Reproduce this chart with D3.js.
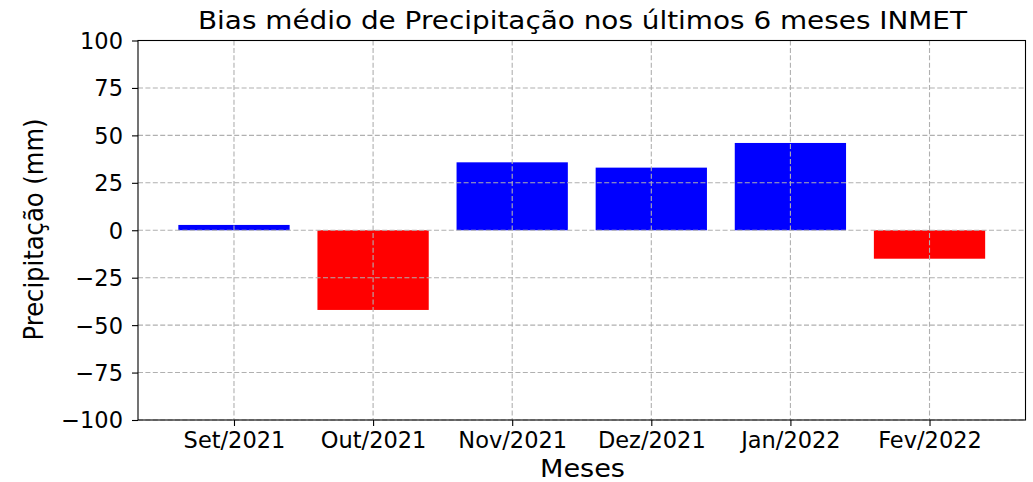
<!DOCTYPE html>
<html><head><meta charset="utf-8">
<script src="https://cdn.jsdelivr.net/npm/d3@7"></script>
<style>body{margin:0;background:#fff}svg{display:block}text{font-family:"DejaVu Sans",sans-serif;fill:#000}</style>
</head><body><svg id="c" width="1033" height="482"></svg>
<script>
const categories = ["Set/2021","Out/2021","Nov/2021","Dez/2021","Jan/2022","Fev/2022"];
const values = [2.8, -42.0, 35.8, 33.0, 46.0, -15.0];
const yTicks = [-100,-75,-50,-25,0,25,50,75,100];
const title = "Bias médio de Precipitação nos últimos 6 meses INMET";
const xLabel = "Meses";
const yLabel = "Precipitação (mm)";

const svg = d3.select("#c");
const L = 138, R = 1025.5, T = 40.5, B = 420;
const x = d3.scaleLinear().domain([-0.69, 5.69]).range([L, R]);
const y = d3.scaleLinear().domain([-100, 100]).range([B, T]);
const bw = 0.8;

// bars
svg.append("g").selectAll("rect").data(values).join("rect")
  .attr("x", (d,i) => x(i - bw/2))
  .attr("width", (d,i) => x(i + bw/2) - x(i - bw/2))
  .attr("y", d => y(Math.max(0,d)))
  .attr("height", d => Math.abs(y(d) - y(0)))
  .attr("fill", d => d >= 0 ? "#0000ff" : "#ff0000");

// grid (drawn above bars)
const grid = svg.append("g").attr("stroke", "#b0b0b0").attr("stroke-width", 1.1).attr("stroke-dasharray", "5,2.4");
grid.selectAll("line.h").data(yTicks).join("line").attr("class","h")
  .attr("x1", L).attr("x2", R).attr("y1", d => y(d)).attr("y2", d => y(d));
grid.selectAll("line.v").data(categories).join("line").attr("class","v")
  .attr("x1", (d,i) => x(i)).attr("x2", (d,i) => x(i)).attr("y1", T).attr("y2", B);

// axes
const yAxis = d3.axisLeft(y).tickValues(yTicks).tickSize(6).tickPadding(9)
  .tickFormat(d => d < 0 ? "\u2212" + Math.abs(d) : String(d));
const gy = svg.append("g").attr("transform", `translate(${L},0)`).call(yAxis);
const xAxis = d3.axisBottom(x).tickValues(d3.range(categories.length)).tickSize(6).tickPadding(7)
  .tickFormat(i => categories[i]);
const gx = svg.append("g").attr("transform", `translate(0,${B})`).call(xAxis);
[gx, gy].forEach(g => {
  g.select(".domain").remove();
  g.selectAll("line").attr("stroke", "#000").attr("stroke-width", 1.1);
  g.selectAll("text").attr("font-size", 22.5).attr("font-family", "DejaVu Sans").attr("fill", "#000");
});
gy.selectAll("text").attr("dy", "0.35em");
gx.selectAll("text").attr("dy", "0.68em");

// frame
svg.append("rect").attr("x", L).attr("y", T).attr("width", R - L).attr("height", B - T)
  .attr("fill", "none").attr("stroke", "#000").attr("stroke-width", 1.1);

// labels
svg.append("text").attr("x", 582.5).attr("y", 29).attr("text-anchor", "middle")
  .attr("font-size", 24).attr("textLength", 769).attr("lengthAdjust", "spacingAndGlyphs").text(title);
svg.append("text").attr("x", 582.5).attr("y", 477).attr("text-anchor", "middle")
  .attr("font-size", 24).attr("textLength", 85).attr("lengthAdjust", "spacingAndGlyphs").text(xLabel);
svg.append("text").attr("transform", `translate(43,229.5) rotate(-90)`).attr("text-anchor", "middle")
  .attr("font-size", 27).attr("textLength", 222).attr("lengthAdjust", "spacingAndGlyphs").text(yLabel);
</script></body></html>
